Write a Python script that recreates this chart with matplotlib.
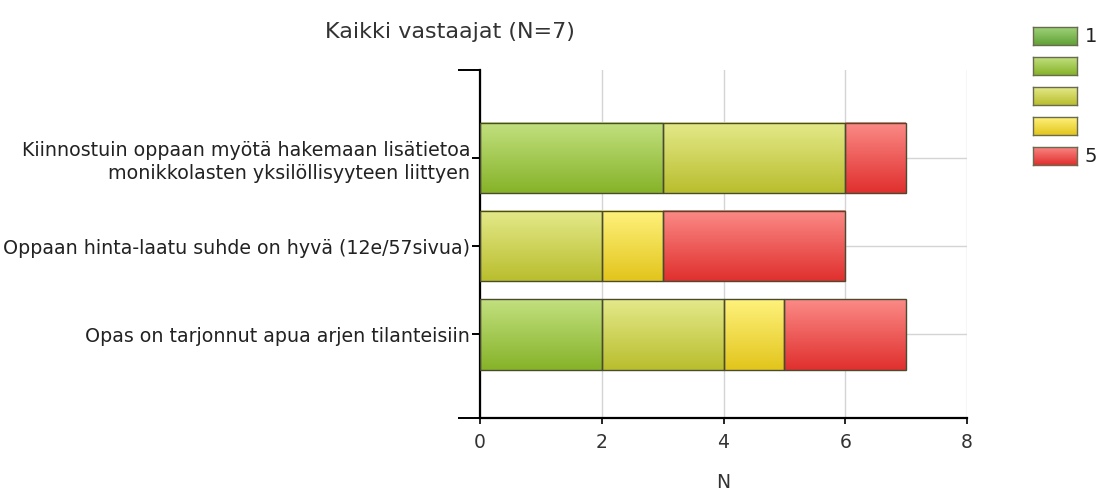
import matplotlib
matplotlib.use('Agg')
import matplotlib.pyplot as plt
import numpy as np
from matplotlib.colors import LinearSegmentedColormap
from matplotlib.patches import Rectangle

# Survey statements (top to bottom) and answer counts per scale value 1..5
statements = [
    'Kiinnostuin oppaan myötä hakemaan lisätietoa\nmonikkolasten yksilöllisyyteen liittyen',
    'Oppaan hinta-laatu suhde on hyvä (12e/57sivua)',
    'Opas on tarjonnut apua arjen tilanteisiin',
]
scale = ['1', '2', '3', '4', '5']
counts_1 = [0, 0, 0]
counts_2 = [3, 0, 2]
counts_3 = [3, 2, 2]
counts_4 = [0, 1, 1]
counts_5 = [1, 3, 2]
legend_labels = ['1', '', '', '', '5']
title = 'Kaikki vastaajat (N=7)'
xticks = [0, 2, 4, 6, 8]

# (top, bottom) gradient colours for each scale value
grad_colors = [
    ('#9fd27a', '#62a236'),
    ('#c2e07f', '#86b329'),
    ('#e4e98a', '#b9be2e'),
    ('#fff27c', '#e2c51c'),
    ('#fb8a86', '#e0302e'),
]
edge = '#4a4a30'

plt.rcParams.update({
    'font.family': 'DejaVu Sans',
    'font.size': 13.7,
    'axes.linewidth': 1.6,
})

fig = plt.figure(figsize=(11.12, 4.97), dpi=100)
ax = fig.add_axes([0.4317, 0.159, 0.4379, 0.7])

series = [counts_1, counts_2, counts_3, counts_4, counts_5]
n = len(statements)
ypos = np.arange(n)[::-1]  # first statement on top
height = 0.8
grad = np.linspace(0, 1, 64).reshape(-1, 1)

left = np.zeros(n)
for i, vals in enumerate(series):
    cmap = LinearSegmentedColormap.from_list(f'g{i}', [grad_colors[i][0], grad_colors[i][1]])
    for j, v in enumerate(vals):
        if v <= 0:
            continue
        y0 = ypos[j] - height / 2
        ax.imshow(grad, extent=(left[j], left[j] + v, y0, y0 + height), cmap=cmap,
                  aspect='auto', origin='upper', zorder=2, interpolation='bicubic')
        ax.add_patch(Rectangle((left[j], y0), v, height, facecolor='none',
                               edgecolor=edge, linewidth=1.0, zorder=3))
    left += np.array(vals)

ax.set_xlim(0, 8)
ax.set_ylim(-0.95, 3.0)
ax.set_xticks(xticks)
ax.set_xticklabels([str(t) for t in xticks], fontsize=13.5, color='#333333')
ax.set_yticks(ypos)
ax.set_yticklabels(statements, fontsize=13.7, color='#222222', linespacing=1.25)
ax.set_yticks([-0.95, 3.0], minor=True)
ax.tick_params(axis='y', which='major', length=6, width=1.4, pad=1)
ax.tick_params(axis='y', which='minor', length=16, width=1.4)
ax.tick_params(axis='x', length=4, width=1.2, pad=7)
for s in ['top', 'right']:
    ax.spines[s].set_visible(False)

ax.grid(True, color='#d4d4d4', linewidth=1.0, zorder=0)
ax.set_axisbelow(True)
ax.set_xlabel('N', fontsize=13.5, color='#333333', labelpad=15)

fig.text(0.405, 0.935, title, ha='center', va='center', fontsize=16, color='#333333')

# Legend boxes at the right
for i in range(len(scale)):
    top_c, bot_c = grad_colors[i]
    cmap = LinearSegmentedColormap.from_list(f'l{i}', [top_c, bot_c])
    yb = 1 - (27 + 30 * i + 18) / 497
    lax = fig.add_axes([1033 / 1112, yb, 44 / 1112, 18 / 497])
    lax.imshow(grad, cmap=cmap, aspect='auto', extent=(0, 1, 0, 1), origin='upper')
    lax.set_xticks([])
    lax.set_yticks([])
    for sp in lax.spines.values():
        sp.set_color('#6a6a50')
        sp.set_linewidth(1.0)
    if legend_labels[i]:
        fig.text(1085 / 1112, yb + 9 / 497, legend_labels[i], ha='left', va='center',
                 fontsize=14, color='#222222')

fig.savefig('out.png', dpi=100, facecolor='white')
